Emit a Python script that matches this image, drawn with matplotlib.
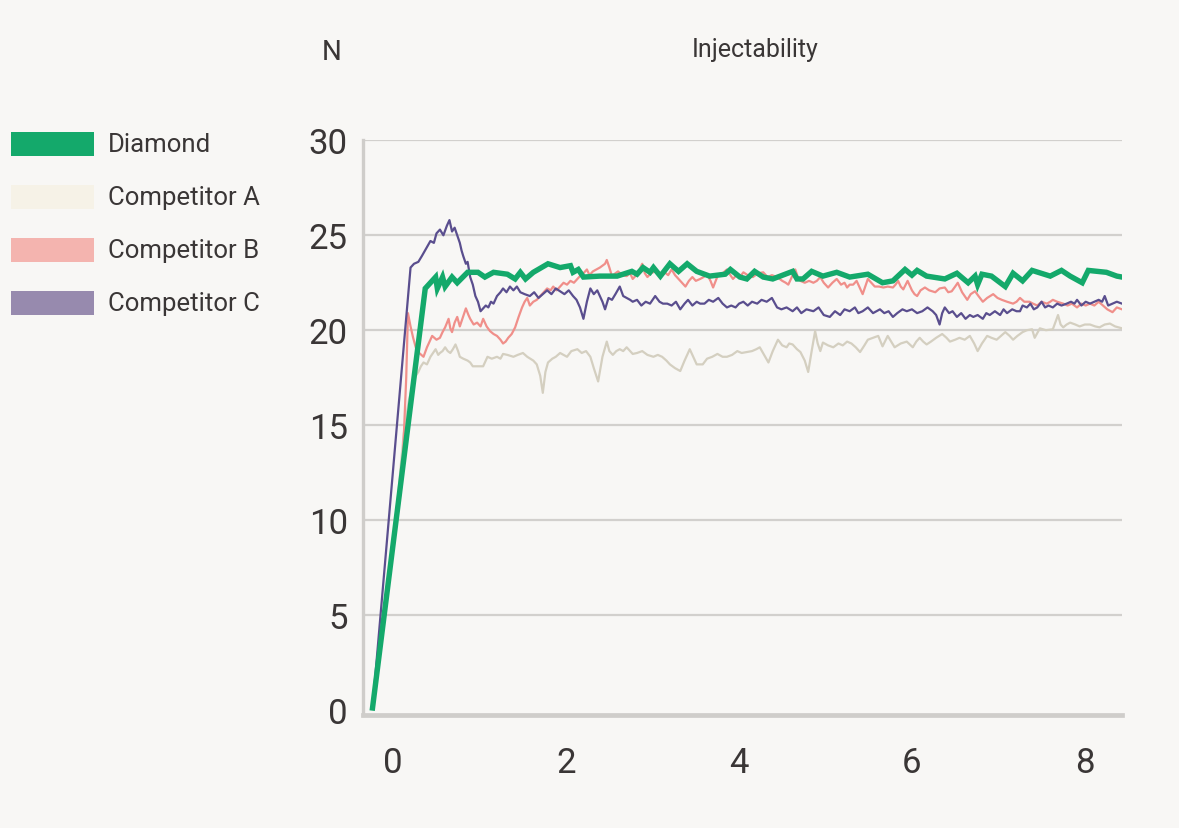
import matplotlib
matplotlib.use('Agg')
import matplotlib.pyplot as plt
from matplotlib.patches import Rectangle

plt.rcParams['font.family'] = ['Roboto', 'DejaVu Sans']

# Данные
diamond_x = [-0.24, 0.37, 0.49, 0.51, 0.57, 0.60, 0.68, 0.74, 0.86, 0.98, 1.06, 1.16, 1.32, 1.41,
             1.47, 1.53, 1.62, 1.79, 1.93, 2.05, 2.08, 2.14, 2.20, 2.39, 2.59, 2.76, 2.82, 2.89,
             2.97, 3.01, 3.09, 3.20, 3.30, 3.40, 3.51, 3.66, 3.84, 3.90, 4.01, 4.09, 4.18, 4.28,
             4.39, 4.62, 4.67, 4.74, 4.84, 4.97, 5.13, 5.28, 5.49, 5.66, 5.78, 5.92, 6.00, 6.06,
             6.17, 6.38, 6.52, 6.65, 6.73, 6.76, 6.81, 6.92, 7.08, 7.17, 7.28, 7.39, 7.60, 7.73,
             7.83, 7.97, 8.04, 8.25, 8.37, 8.43]
diamond_y = [0.1, 22.2, 22.8, 22.2, 22.8, 22.3, 22.8, 22.5, 23.05, 23.05, 22.8, 23.05, 22.95, 22.7,
             23.05, 22.7, 23.05, 23.5, 23.3, 23.4, 23.05, 23.2, 22.8, 22.85, 22.85, 23.1, 22.95, 23.3,
             23.05, 23.3, 22.85, 23.5, 23.1, 23.5, 23.1, 22.85, 22.95, 23.2, 22.8, 22.7, 23.1, 22.8,
             22.7, 23.1, 22.7, 22.7, 23.1, 22.85, 23.05, 22.8, 22.95, 22.5, 22.6, 23.2, 22.9, 23.15,
             22.85, 22.7, 23.0, 22.5, 22.85, 22.4, 22.95, 22.85, 22.3, 23.0, 22.6, 23.15, 22.85, 23.15,
             22.85, 22.5, 23.15, 23.05, 22.85, 22.8]

comp_a_x = [-0.24, 0.05, 0.12, 0.18, 0.22, 0.26, 0.29, 0.32, 0.35, 0.39, 0.43, 0.46, 0.49, 0.52,
            0.54, 0.57, 0.60, 0.63, 0.66, 0.69, 0.72, 0.75, 0.77, 0.81, 0.86, 0.89, 0.92, 0.97,
            1.04, 1.07, 1.09, 1.14, 1.20, 1.24, 1.27, 1.32, 1.39, 1.44, 1.50, 1.55, 1.62, 1.66,
            1.70, 1.73, 1.76, 1.79, 1.84, 1.88, 1.93, 1.97, 2.01, 2.06, 2.13, 2.18, 2.23, 2.28,
            2.32, 2.37, 2.42, 2.47, 2.50, 2.54, 2.58, 2.62, 2.66, 2.70, 2.74, 2.77, 2.82, 2.88,
            2.94, 3.01, 3.06, 3.11, 3.16, 3.20, 3.26, 3.32, 3.37, 3.43, 3.47, 3.51, 3.58, 3.63,
            3.69, 3.75, 3.81, 3.86, 3.92, 3.98, 4.03, 4.09, 4.15, 4.20, 4.24, 4.29, 4.34, 4.39,
            4.45, 4.50, 4.55, 4.58, 4.62, 4.67, 4.71, 4.76, 4.80, 4.84, 4.88, 4.91, 4.94, 4.97,
            5.03, 5.09, 5.15, 5.20, 5.25, 5.30, 5.35, 5.40, 5.45, 5.49, 5.55, 5.61, 5.66, 5.72,
            5.76, 5.80, 5.87, 5.94, 6.01, 6.05, 6.09, 6.13, 6.17, 6.22, 6.28, 6.35, 6.40, 6.44,
            6.50, 6.55, 6.61, 6.67, 6.72, 6.76, 6.81, 6.87, 6.92, 6.98, 7.03, 7.08, 7.13, 7.17,
            7.22, 7.28, 7.33, 7.39, 7.42, 7.48, 7.55, 7.63, 7.69, 7.72, 7.75, 7.79, 7.83, 7.89,
            7.94, 8.00, 8.06, 8.12, 8.17, 8.23, 8.29, 8.35, 8.43]
comp_a_y = [0.1, 11.0, 14.5, 16.3, 17.0, 17.6, 17.8, 18.1, 18.3, 18.2, 18.6, 18.8, 19.0, 18.7,
            18.8, 18.9, 19.1, 18.9, 18.8, 19.0, 19.25, 18.9, 18.6, 18.5, 18.4, 18.3, 18.1, 18.1,
            18.1, 18.4, 18.6, 18.5, 18.6, 18.5, 18.75, 18.7, 18.6, 18.7, 18.8, 18.6, 18.4, 18.2,
            17.6, 16.7, 17.8, 18.3, 18.5, 18.6, 18.8, 18.7, 18.6, 18.9, 19.0, 18.8, 18.9, 18.6,
            18.0, 17.3, 18.6, 19.4, 18.9, 18.7, 18.9, 19.0, 18.9, 19.1, 18.9, 18.75, 18.8, 18.9,
            18.7, 18.6, 18.7, 18.6, 18.4, 18.2, 18.0, 17.85, 18.4, 19.0, 18.6, 18.2, 18.2, 18.5,
            18.6, 18.75, 18.6, 18.6, 18.7, 18.9, 18.8, 18.85, 18.9, 19.0, 19.1, 18.7, 18.3, 18.9,
            19.5, 19.2, 19.1, 19.3, 19.25, 19.0, 18.85, 18.4, 17.8, 18.9, 19.95, 19.3, 18.9, 19.35,
            19.2, 19.1, 19.3, 19.2, 19.4, 19.3, 19.1, 18.85, 19.2, 19.5, 19.6, 19.7, 19.15, 19.7,
            19.4, 19.1, 19.3, 19.4, 19.1, 19.4, 19.6, 19.4, 19.25, 19.4, 19.6, 19.8, 19.6, 19.4,
            19.5, 19.6, 19.5, 19.7, 19.3, 18.9, 19.3, 19.7, 19.6, 19.5, 19.7, 19.9, 19.7, 19.5,
            19.7, 19.9, 20.0, 20.05, 19.6, 20.1, 20.0, 20.05, 20.8, 20.3, 20.15, 20.3, 20.4, 20.3,
            20.2, 20.3, 20.3, 20.2, 20.15, 20.3, 20.35, 20.2, 20.1]

comp_b_x = [-0.24, 0.10, 0.15, 0.17, 0.20, 0.23, 0.26, 0.30, 0.35, 0.39, 0.42, 0.45, 0.50, 0.54,
            0.57, 0.60, 0.64, 0.66, 0.68, 0.71, 0.74, 0.77, 0.80, 0.84, 0.87, 0.89, 0.93, 0.97,
            1.01, 1.04, 1.08, 1.12, 1.16, 1.20, 1.24, 1.27, 1.30, 1.33, 1.37, 1.41, 1.45, 1.49,
            1.52, 1.55, 1.58, 1.62, 1.66, 1.70, 1.74, 1.78, 1.82, 1.85, 1.89, 1.93, 1.97, 2.01,
            2.05, 2.09, 2.13, 2.16, 2.20, 2.24, 2.27, 2.31, 2.35, 2.39, 2.42, 2.45, 2.47, 2.50,
            2.53, 2.57, 2.60, 2.65, 2.70, 2.74, 2.77, 2.81, 2.85, 2.88, 2.91, 2.94, 2.98, 3.03,
            3.08, 3.14, 3.18, 3.22, 3.26, 3.30, 3.34, 3.38, 3.42, 3.46, 3.50, 3.55, 3.59, 3.63,
            3.67, 3.70, 3.73, 3.76, 3.81, 3.86, 3.90, 3.93, 3.97, 4.01, 4.05, 4.10, 4.16, 4.22,
            4.28, 4.33, 4.38, 4.44, 4.50, 4.54, 4.57, 4.61, 4.65, 4.68, 4.71, 4.76, 4.81, 4.86,
            4.90, 4.94, 4.98, 5.03, 5.08, 5.13, 5.18, 5.22, 5.25, 5.28, 5.32, 5.36, 5.40, 5.43,
            5.46, 5.49, 5.53, 5.57, 5.62, 5.67, 5.72, 5.78, 5.81, 5.84, 5.87, 5.90, 5.95, 6.00,
            6.03, 6.06, 6.10, 6.15, 6.20, 6.27, 6.32, 6.38, 6.42, 6.46, 6.50, 6.53, 6.58, 6.64,
            6.68, 6.73, 6.77, 6.82, 6.87, 6.94, 6.99, 7.04, 7.10, 7.17, 7.21, 7.25, 7.30, 7.36,
            7.40, 7.45, 7.50, 7.56, 7.60, 7.63, 7.68, 7.75, 7.80, 7.85, 7.91, 7.96, 8.01, 8.06,
            8.11, 8.16, 8.21, 8.26, 8.32, 8.37, 8.43]
comp_b_y = [0.1, 12.0, 17.5, 20.9, 20.2, 19.6, 19.1, 18.8, 18.6, 19.1, 19.4, 19.7, 19.5, 19.6,
            19.9, 20.15, 20.6, 20.1, 19.9, 20.4, 20.7, 20.2, 20.6, 21.15, 20.8, 20.6, 20.3, 20.4,
            20.2, 20.6, 20.2, 19.95, 19.8, 19.7, 19.5, 19.3, 19.4, 19.6, 19.8, 20.15, 20.7, 21.2,
            21.5, 21.7, 21.3, 21.5, 21.6, 21.8, 22.0, 22.2, 22.1, 22.3, 22.1, 22.3, 22.5, 22.4,
            22.6, 22.5, 22.7, 22.85, 23.0, 23.2, 22.9, 23.1, 23.2, 23.3, 23.4, 23.5, 23.7, 23.3,
            22.85, 23.0, 23.1, 22.9, 22.85, 23.0, 22.7, 22.9, 23.2, 23.5, 23.0, 22.8, 23.0, 23.1,
            22.9, 23.05, 22.9, 23.2, 22.9, 22.7, 22.5, 22.3, 22.6, 22.8, 22.6, 22.7, 22.8, 22.95,
            22.6, 22.25, 22.6, 22.95, 23.0, 23.2, 22.9, 22.7, 22.9, 22.8, 23.05, 22.9, 22.8, 23.0,
            23.05, 22.8, 22.9, 22.8, 22.6, 22.5, 22.4, 22.8, 23.2, 22.8, 22.6, 22.5, 22.6, 22.5,
            22.6, 22.8, 22.5, 22.25, 22.5, 22.7, 22.4, 22.5, 22.25, 22.4, 22.4, 22.6, 22.2, 21.9,
            22.3, 22.7, 22.5, 22.3, 22.3, 22.25, 22.3, 22.25, 22.4, 22.6, 22.3, 22.15, 22.6, 22.1,
            21.9, 21.8, 22.1, 22.25, 22.1, 22.0, 22.2, 22.25, 22.0, 22.05, 22.3, 22.5, 22.0, 21.6,
            21.9, 22.05, 21.8, 21.5, 21.7, 21.9, 21.7, 21.6, 21.5, 21.4, 21.5, 21.7, 21.5, 21.5,
            21.4, 21.3, 21.5, 21.4, 21.5, 21.6, 21.5, 21.4, 21.3, 21.4, 21.2, 21.4, 21.3, 21.4,
            21.3, 21.5, 21.3, 21.1, 20.95, 21.2, 21.1]

comp_c_x = [-0.24, 0.20, 0.24, 0.29, 0.33, 0.38, 0.43, 0.47, 0.50, 0.54, 0.58, 0.62, 0.65, 0.68,
            0.71, 0.74, 0.77, 0.79, 0.81, 0.84, 0.86, 0.89, 0.92, 0.95, 0.98, 1.01, 1.03, 1.07,
            1.10, 1.13, 1.16, 1.20, 1.24, 1.27, 1.31, 1.35, 1.39, 1.43, 1.47, 1.52, 1.58, 1.63,
            1.68, 1.73, 1.78, 1.83, 1.88, 1.93, 1.98, 2.03, 2.08, 2.12, 2.16, 2.20, 2.24, 2.28,
            2.32, 2.36, 2.39, 2.42, 2.45, 2.49, 2.53, 2.57, 2.62, 2.66, 2.70, 2.74, 2.77, 2.82,
            2.87, 2.92, 2.97, 3.03, 3.08, 3.12, 3.17, 3.22, 3.27, 3.32, 3.37, 3.41, 3.46, 3.51,
            3.55, 3.60, 3.65, 3.70, 3.76, 3.81, 3.86, 3.91, 3.96, 4.00, 4.05, 4.10, 4.15, 4.21,
            4.26, 4.32, 4.38, 4.44, 4.49, 4.55, 4.62, 4.67, 4.72, 4.78, 4.86, 4.92, 4.98, 5.05,
            5.11, 5.17, 5.22, 5.28, 5.34, 5.38, 5.43, 5.49, 5.55, 5.63, 5.68, 5.73, 5.78, 5.83,
            5.89, 5.94, 6.00, 6.06, 6.12, 6.18, 6.24, 6.28, 6.32, 6.35, 6.38, 6.43, 6.47, 6.52,
            6.57, 6.62, 6.67, 6.71, 6.76, 6.82, 6.86, 6.90, 6.96, 7.02, 7.06, 7.10, 7.16, 7.21,
            7.25, 7.28, 7.33, 7.37, 7.41, 7.45, 7.50, 7.54, 7.58, 7.63, 7.68, 7.73, 7.79, 7.84,
            7.88, 7.91, 7.96, 8.01, 8.06, 8.11, 8.16, 8.20, 8.23, 8.27, 8.32, 8.37, 8.43]
comp_c_y = [0.1, 23.3, 23.5, 23.6, 23.9, 24.3, 24.7, 24.6, 25.1, 25.3, 25.0, 25.5, 25.8, 25.2,
            25.4, 25.0, 24.6, 24.2, 23.9, 23.5, 23.6, 22.8, 22.4, 21.8, 21.5, 21.0, 21.1, 21.3,
            21.2, 21.5, 21.4, 21.8, 22.0, 22.2, 22.0, 22.3, 22.1, 22.3, 22.0, 21.9, 21.8, 22.0,
            21.7, 21.9, 22.1, 21.9, 22.2, 22.05, 21.9, 22.1, 21.8, 21.6, 21.2, 20.6, 21.5, 22.2,
            21.9, 22.1, 21.8, 21.5, 21.1, 21.7, 21.6, 21.9, 22.3, 21.8, 21.7, 21.6, 21.5, 21.6,
            21.3, 21.5, 21.4, 21.8, 21.5, 21.4, 21.4, 21.3, 21.5, 21.1, 21.4, 21.6, 21.3, 21.5,
            21.4, 21.4, 21.6, 21.5, 21.7, 21.4, 21.2, 21.3, 21.2, 21.4, 21.5, 21.3, 21.5, 21.4,
            21.6, 21.5, 21.7, 21.2, 21.1, 21.2, 21.0, 21.2, 20.9, 21.1, 21.0, 21.2, 20.8, 20.7,
            21.0, 20.8, 21.1, 21.0, 21.2, 20.9, 21.0, 21.2, 20.9, 21.1, 20.9, 21.0, 20.7, 20.9,
            21.1, 21.0, 21.1, 20.9, 21.0, 21.2, 21.0, 20.8, 20.3, 20.9, 21.2, 20.9, 21.0, 20.7,
            20.9, 20.6, 20.8, 20.7, 20.8, 20.6, 20.9, 20.8, 21.0, 20.8, 21.1, 20.9, 21.1, 21.0,
            21.0, 21.3, 21.2, 21.4, 21.1, 21.2, 21.5, 21.2, 21.3, 21.2, 21.4, 21.3, 21.4, 21.5,
            21.4, 21.6, 21.3, 21.5, 21.4, 21.5, 21.6, 21.5, 21.8, 21.3, 21.4, 21.5, 21.4]

legend_labels = ['Diamond', 'Competitor A', 'Competitor B', 'Competitor C']
legend_colors = ['#14a96b', '#f6f2e7', '#f4b4af', '#978aae']

x_ticks = [0, 2, 4, 6, 8]
y_ticks = [0, 5, 10, 15, 20, 25, 30]

BG = '#f8f7f5'
TEXT = '#3a3636'
GRID = '#d2d0cd'
W, H = 1179, 829

fig = plt.figure(figsize=(W / 100, H / 100), dpi=100, facecolor=BG)
ax = fig.add_axes([363 / W, 1 - 716 / H, (1122 - 363) / W, (716 - 141) / H], facecolor=BG)

# Линии
ax.plot(comp_a_x, comp_a_y, color='#d4cfc0', lw=1.6, zorder=3)
ax.plot(comp_b_x, comp_b_y, color='#f08f8a', lw=1.6, zorder=4)
ax.plot(comp_c_x, comp_c_y, color='#5a4e8e', lw=1.6, zorder=5)
ax.plot(diamond_x, diamond_y, color='#14a96b', lw=3.9, zorder=6, solid_joinstyle='miter')

ax.set_xlim(-0.35, 8.43)
ax.set_ylim(-0.27, 30.02)
ax.set_xticks(x_ticks)
ax.set_yticks(y_ticks)
ax.tick_params(axis='both', length=0, labelsize=25, labelcolor=TEXT)
ax.tick_params(axis='x', pad=22)
ax.tick_params(axis='y', pad=11)

ax.yaxis.grid(True, color=GRID, lw=1.6, zorder=1)
ax.get_ygridlines()[0].set_visible(False)
ax.set_axisbelow(True)

for side in ['top', 'right']:
    ax.spines[side].set_visible(False)
ax.spines['left'].set_color('#cfcdca')
ax.spines['left'].set_linewidth(2.4)
ax.spines['bottom'].set_color('#cfcdca')
ax.spines['bottom'].set_linewidth(3.4)

# Подписи
fig.text(332 / W, 1 - 52 / H, 'N', fontsize=20, color=TEXT, ha='center', va='center')
fig.text(755 / W, 1 - 50 / H, 'Injectability', fontsize=18, color=TEXT, ha='center', va='center')

# Легенда
for i, (lab, col) in enumerate(zip(legend_labels, legend_colors)):
    top = 133 + i * 53
    fig.patches.append(Rectangle((11 / W, 1 - (top + 24) / H), 83 / W, 24 / H,
                                 transform=fig.transFigure, facecolor=col, edgecolor='none'))
    fig.text(108 / W, 1 - (top + 12) / H, lab, fontsize=18.5, color=TEXT, ha='left', va='center')

fig.savefig('out.png', dpi=100, facecolor=BG)
